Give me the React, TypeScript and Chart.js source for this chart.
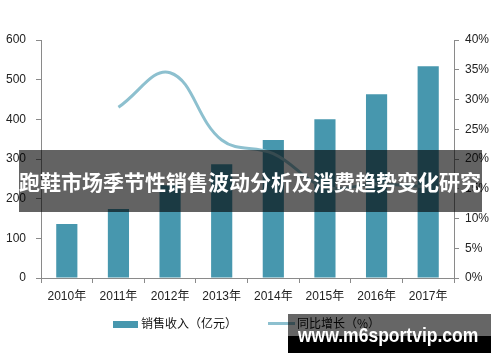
import React, { useEffect, useRef } from "react";
import { Chart, registerables } from "chart.js";

Chart.register(...registerables);

const years = ["2010年", "2011年", "2012年", "2013年", "2014年", "2015年", "2016年", "2017年"];
const revenue = [136, 174, 234, 287, 348, 400, 463, 534];
const growth = [null, 28.7, 34.5, 23.2, 20.9, 15.3, 15.8, 15.3];
const revenueLabel = "销售收入（亿元）";
const growthLabel = "同比增长（%）";
const titleText = "跑鞋市场季节性销售波动分析及消费趋势变化研究";
const siteText = "www.m6sportvip.com";

const BAR_COLOR = "#4797ae";
const LINE_COLOR = "#8dc0cf";
const AXIS_COLOR = "#8a8a8a";
const FONT = "'Liberation Sans', 'Noto Sans CJK SC', sans-serif";

export default function App() {
  const ref = useRef<HTMLCanvasElement | null>(null);

  useEffect(() => {
    if (!ref.current) return;
    const chart = new Chart(ref.current, {
      type: "bar",
      data: {
        labels: years,
        datasets: [
          {
            type: "line",
            label: growthLabel,
            data: growth as any,
            yAxisID: "y1",
            borderColor: LINE_COLOR,
            borderWidth: 3,
            pointRadius: 0,
            tension: 0.4,
            fill: false,
            order: 0,
          } as any,
          {
            type: "bar",
            label: revenueLabel,
            data: revenue,
            yAxisID: "y",
            backgroundColor: BAR_COLOR,
            barPercentage: 0.41,
            categoryPercentage: 1,
            order: 1,
          },
        ],
      },
      options: {
        animation: false,
        responsive: false,
        maintainAspectRatio: false,
        layout: { padding: { top: 40, left: 0, right: 0, bottom: 0 } },
        plugins: { legend: { display: false }, tooltip: { enabled: false } },
        scales: {
          x: {
            grid: {
              display: true,
              drawOnChartArea: false,
              drawTicks: true,
              tickLength: 5,
              color: AXIS_COLOR,
              offset: true,
            },
            border: { display: true, color: AXIS_COLOR },
            ticks: { color: "#222", font: { family: FONT, size: 12 }, padding: 6, maxRotation: 0 },
            afterFit: (s: any) => {
              s.height = 84;
            },
          },
          y: {
            position: "left",
            min: 0,
            max: 600,
            ticks: { stepSize: 100, color: "#222", font: { family: FONT, size: 12 }, padding: 10 },
            grid: { drawOnChartArea: false, drawTicks: true, tickLength: 5, color: AXIS_COLOR },
            border: { display: true, color: AXIS_COLOR },
            afterFit: (s: any) => {
              s.width = 41;
            },
          },
          y1: {
            position: "right",
            min: 0,
            max: 40,
            ticks: {
              stepSize: 5,
              color: "#222",
              font: { family: FONT, size: 12 },
              padding: 6,
              callback: (v: any) => `${v}%`,
            },
            grid: { drawOnChartArea: false, drawTicks: true, tickLength: 5, color: AXIS_COLOR },
            border: { display: true, color: AXIS_COLOR },
            afterFit: (s: any) => {
              s.width = 46;
            },
          },
        },
      },
    });
    return () => chart.destroy();
  }, []);

  const cjk = "'Noto Sans CJK SC', sans-serif";

  return (
    <div style={{ position: "absolute", left: 0, top: 0, width: 500, height: 362, background: "#fff", overflow: "hidden" }}>
      <canvas ref={ref} width={500} height={362} style={{ position: "absolute", left: 0, top: 0, width: 500, height: 362 }} />
      {/* legend */}
      <div style={{ position: "absolute", left: 113, top: 321, width: 25, height: 7, background: BAR_COLOR }} />
      <div style={{ position: "absolute", left: 141, top: 314, height: 18, lineHeight: "18px", fontSize: 12, fontFamily: cjk, color: "#111", whiteSpace: "nowrap" }}>
        {revenueLabel}
      </div>
      <div style={{ position: "absolute", left: 268, top: 322, width: 27, height: 3, background: LINE_COLOR }} />
      <div style={{ position: "absolute", left: 297, top: 314, height: 18, lineHeight: "18px", fontSize: 12, fontFamily: cjk, color: "#111", whiteSpace: "nowrap" }}>
        {growthLabel}
      </div>
      {/* title banner */}
      <div
        style={{
          position: "absolute",
          left: 19,
          top: 150,
          width: 463,
          height: 62,
          background: "rgba(0,0,0,0.61)",
          color: "#fff",
          fontFamily: cjk,
          fontWeight: 700,
          fontSize: 21,
          lineHeight: "62px",
          whiteSpace: "nowrap",
          overflow: "hidden",
        }}
      >
        {titleText}
      </div>
      {/* site banner */}
      <div style={{ position: "absolute", left: 288, top: 314, width: 203, height: 22, background: "rgba(0,0,0,0.6)" }} />
      <div style={{ position: "absolute", left: 288, top: 336, width: 203, height: 17, background: "#000" }} />
      <div
        style={{
          position: "absolute",
          left: 298,
          top: 322,
          height: 26,
          lineHeight: "26px",
          fontFamily: "'Liberation Sans', sans-serif",
          fontWeight: 700,
          fontSize: 21,
          color: "#fff",
          whiteSpace: "nowrap",
          transform: "scaleX(0.834)",
          transformOrigin: "0 50%",
        }}
      >
        {siteText}
      </div>
    </div>
  );
}
